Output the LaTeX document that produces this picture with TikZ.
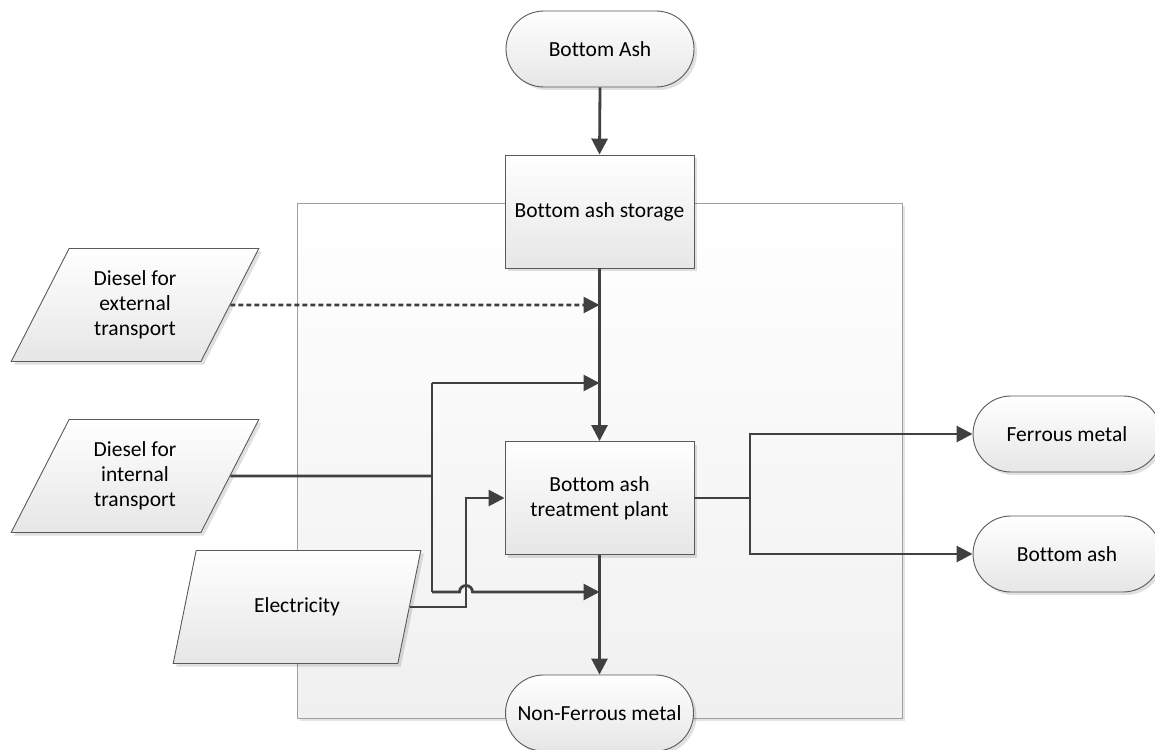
\documentclass[tikz,border=0pt]{standalone}
\usepackage{fontspec}
\setmainfont{Carlito}[Ligatures=NoCommon]
\usetikzlibrary{arrows.meta,shapes.geometric,shapes.misc,shadows}
\definecolor{wire}{HTML}{404040}
\definecolor{edge}{HTML}{5A5A5A}
\definecolor{shadefoot}{HTML}{E6E6E6}
\definecolor{panelfoot}{HTML}{F0F0F0}
\tikzset{
  base/.style={draw=edge, line width=0.9pt, top color=white, bottom color=shadefoot,
    font=\fontsize{21.5}{25}\selectfont, align=center, inner sep=0pt,
    drop shadow={shadow xshift=3pt, shadow yshift=-3pt, fill=black, opacity=0.12}},
  term/.style={base, rounded rectangle, minimum width=188pt, minimum height=76pt},
  procbox/.style={base, rectangle, minimum width=189pt, minimum height=113pt},
  datain/.style={base, trapezium, trapezium left angle=62, trapezium right angle=118,
    trapezium stretches=true, minimum width=248pt, minimum height=113pt},
  flow/.style={draw=wire, line width=2.8pt, -{Triangle[length=16pt,width=16pt]}},
  wireline/.style={draw=wire, line width=2.8pt},
  dashflow/.style={flow, dash pattern=on 5pt off 3pt},
}
\begin{document}
\begin{tikzpicture}[x=1pt,y=-1pt]
\useasboundingbox (0,0) rectangle (1155,749);
% system boundary panel
\node[draw=gray!75, line width=0.9pt, top color=white, bottom color=panelfoot,
  minimum width=605pt, minimum height=515pt, inner sep=0pt,
  drop shadow={shadow xshift=3pt, shadow yshift=-3pt, fill=black, opacity=0.10}]
  (panel) at (599.5,460.5) {};

% nodes
\node[term] (ash) at (600,49) {Bottom Ash};
\node[procbox] (store) at (599.5,211.5) {Bottom ash storage};
\node[procbox] (plant) at (599.5,498) {Bottom ash\\treatment plant};
\node[term] (nonfe) at (599.5,713) {Non-Ferrous metal};
\node[term] (fe) at (1067,434) {Ferrous metal};
\node[term] (outash) at (1067,554) {Bottom ash};
\node[datain] (dext) at (135,305) {Diesel for\\external\\transport};
\node[datain] (dint) at (135,476) {Diesel for\\internal\\transport};
\node[datain] (elec) at (297,607) {Electricity};

% junction points
\coordinate (jext) at (599.5,305);
\coordinate (jtop) at (599.5,383);
\coordinate (jbot) at (599.5,592);
\coordinate (btop) at (432,383);
\coordinate (bmid) at (432,476);
\coordinate (bbot) at (432,592);
\coordinate (hopL) at (459.5,592);
\coordinate (ecorner) at (466,498);
\coordinate (split) at (750,498);

% main flow
\draw[flow] (ash.south) -- (store.north);
\draw[flow] (store.south) -- (plant.north);
\draw[flow] (plant.south) -- (nonfe.north);

% energy inputs
\draw[dashflow] (dext.east) -- (jext);
\draw[wireline] (dint.east) -- (bmid);
\draw[wireline] (btop) -- (bbot);
\draw[flow] (btop) -- (jtop);
\draw[flow] (bbot) -- (hopL) arc[start angle=180, end angle=0, radius=6.5pt] -- (jbot);
\draw[flow] (elec.east) -| (ecorner) -- (plant.west);

% outputs
\draw[wireline] (plant.east) -- (split);
\draw[flow] (split) |- (fe.west);
\draw[flow] (split) |- (outash.west);
\end{tikzpicture}
\end{document}
